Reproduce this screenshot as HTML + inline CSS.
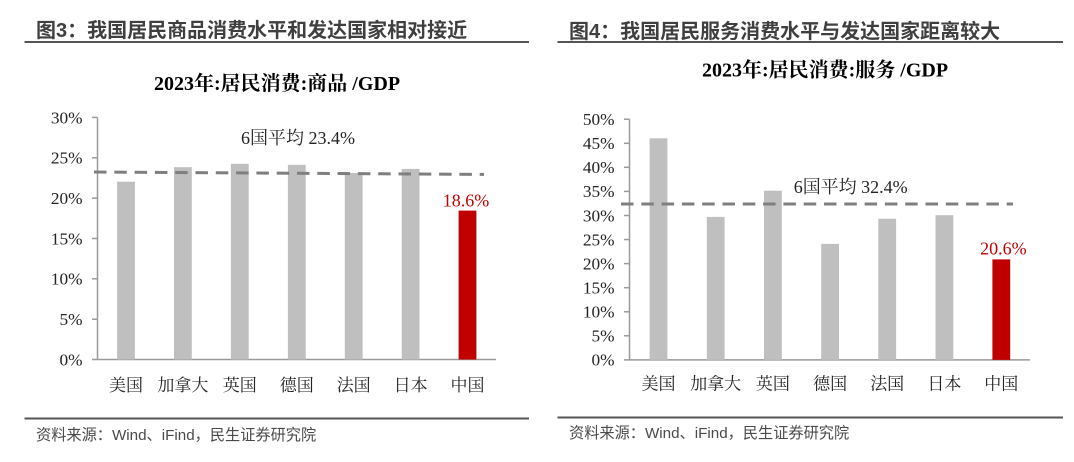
<!DOCTYPE html>
<html><head><meta charset="utf-8"><style>
html,body{margin:0;padding:0;background:#fff;}
svg{display:block;}
.hd{font-family:"Liberation Sans","Noto Sans CJK SC",sans-serif;font-weight:bold;font-size:20px;fill:#3f3f3f;}
.ct{font-family:"Liberation Serif","Noto Serif CJK SC",serif;font-weight:bold;font-size:20px;fill:#000;}
.yl{font-family:"Liberation Serif","Noto Serif CJK SC",serif;font-size:17.3px;fill:#222;}
.xl{font-family:"Liberation Serif","Noto Serif CJK SC",serif;font-size:17px;fill:#222;}
.an{font-family:"Liberation Serif","Noto Serif CJK SC",serif;font-size:18px;fill:#222;}
.rd{font-family:"Liberation Serif","Noto Serif CJK SC",serif;font-size:18px;fill:#c00000;}
.ft{font-family:"Liberation Sans","Noto Sans CJK SC",sans-serif;font-size:15.2px;fill:#4a4a4a;}
</style></head><body>
<svg width="1074" height="462" viewBox="0 0 1074 462" xmlns="http://www.w3.org/2000/svg">
<rect width="1074" height="462" fill="#fff"/>

<!-- ===== LEFT PANEL ===== -->
<text class="hd" x="36" y="37">图3：我国居民商品消费水平和发达国家相对接近</text>
<line x1="24.5" y1="42" x2="529" y2="42" stroke="#555" stroke-width="2"/>
<text class="ct" x="277" y="90" text-anchor="middle">2023年:居民消费:商品 /GDP</text>

<g class="yl" text-anchor="end">
<text x="82.5" y="123.3">30%</text>
<text x="82.5" y="163.6">25%</text>
<text x="82.5" y="203.9">20%</text>
<text x="82.5" y="244.3">15%</text>
<text x="82.5" y="284.6">10%</text>
<text x="82.5" y="325">5%</text>
<text x="82.5" y="365.3">0%</text>
</g>
<g stroke="#9a9a9a" stroke-width="1.5" fill="none">
<line x1="97.5" y1="117.4" x2="97.5" y2="359.5"/>
<line x1="92" y1="359.5" x2="496" y2="359.5"/>
<line x1="92" y1="117.4" x2="97.5" y2="117.4"/>
<line x1="92" y1="157.8" x2="97.5" y2="157.8"/>
<line x1="92" y1="198.1" x2="97.5" y2="198.1"/>
<line x1="92" y1="238.5" x2="97.5" y2="238.5"/>
<line x1="92" y1="278.8" x2="97.5" y2="278.8"/>
<line x1="92" y1="319.2" x2="97.5" y2="319.2"/>
</g>
<g fill="#bfbfbf">
<rect x="117.1" y="181.7" width="17.8" height="177.8"/>
<rect x="174" y="167.2" width="17.8" height="192.3"/>
<rect x="230.9" y="163.8" width="17.8" height="195.7"/>
<rect x="287.9" y="164.8" width="17.8" height="194.7"/>
<rect x="344.8" y="173" width="17.8" height="186.5"/>
<rect x="401.7" y="168.9" width="17.8" height="190.6"/>
</g>
<rect x="458.6" y="210.6" width="17.8" height="148.9" fill="#c00000"/>
<line x1="94" y1="172" x2="484" y2="174.4" stroke="#7f7f7f" stroke-width="3" stroke-dasharray="12.5 7.8"/>
<text class="an" x="241" y="144">6国平均 23.4%</text>
<text class="rd" x="466" y="206.6" text-anchor="middle">18.6%</text>
<g class="xl" text-anchor="middle">
<text x="126" y="390.8">美国</text>
<text x="182.9" y="390.8">加拿大</text>
<text x="239.8" y="390.8">英国</text>
<text x="296.8" y="390.8">德国</text>
<text x="353.7" y="390.8">法国</text>
<text x="410.6" y="390.8">日本</text>
<text x="467.5" y="390.8">中国</text>
</g>
<line x1="24.5" y1="418.5" x2="529" y2="418.5" stroke="#555" stroke-width="2"/>
<text class="ft" x="36" y="440">资料来源：Wind、iFind，民生证券研究院</text>

<!-- ===== RIGHT PANEL ===== -->
<text class="hd" x="569" y="38">图4：我国居民服务消费水平与发达国家距离较大</text>
<line x1="557.5" y1="42" x2="1063" y2="42" stroke="#555" stroke-width="2"/>
<text class="ct" x="825" y="76.5" text-anchor="middle">2023年:居民消费:服务 /GDP</text>

<g class="yl" text-anchor="end">
<text x="614.5" y="125">50%</text>
<text x="614.5" y="149.1">45%</text>
<text x="614.5" y="173.1">40%</text>
<text x="614.5" y="197.2">35%</text>
<text x="614.5" y="221.3">30%</text>
<text x="614.5" y="245.3">25%</text>
<text x="614.5" y="269.4">20%</text>
<text x="614.5" y="293.5">15%</text>
<text x="614.5" y="317.6">10%</text>
<text x="614.5" y="341.6">5%</text>
<text x="614.5" y="365.7">0%</text>
</g>
<g stroke="#9a9a9a" stroke-width="1.5" fill="none">
<line x1="629.5" y1="119.2" x2="629.5" y2="359.9"/>
<line x1="624" y1="359.9" x2="1030" y2="359.9"/>
<line x1="624" y1="119.2" x2="629.5" y2="119.2"/>
<line x1="624" y1="143.3" x2="629.5" y2="143.3"/>
<line x1="624" y1="167.3" x2="629.5" y2="167.3"/>
<line x1="624" y1="191.4" x2="629.5" y2="191.4"/>
<line x1="624" y1="215.5" x2="629.5" y2="215.5"/>
<line x1="624" y1="239.55" x2="629.5" y2="239.55"/>
<line x1="624" y1="263.6" x2="629.5" y2="263.6"/>
<line x1="624" y1="287.7" x2="629.5" y2="287.7"/>
<line x1="624" y1="311.8" x2="629.5" y2="311.8"/>
<line x1="624" y1="335.8" x2="629.5" y2="335.8"/>
</g>
<g fill="#bfbfbf">
<rect x="649.6" y="138.3" width="17.8" height="221.6"/>
<rect x="706.8" y="216.9" width="17.8" height="143"/>
<rect x="764" y="190.7" width="17.8" height="169.2"/>
<rect x="821.2" y="243.9" width="17.8" height="116"/>
<rect x="878.3" y="218.7" width="17.8" height="141.2"/>
<rect x="935.5" y="215.2" width="17.8" height="144.7"/>
</g>
<rect x="992.4" y="259.4" width="17.8" height="100.5" fill="#c00000"/>
<line x1="621" y1="204" x2="1013" y2="204" stroke="#7f7f7f" stroke-width="3" stroke-dasharray="12.5 7.8"/>
<text class="an" x="793.7" y="193">6国平均 32.4%</text>
<text class="rd" x="1003.4" y="254.5" text-anchor="middle">20.6%</text>
<g class="xl" text-anchor="middle">
<text x="658.5" y="389.3">美国</text>
<text x="715.7" y="389.3">加拿大</text>
<text x="772.9" y="389.3">英国</text>
<text x="830.1" y="389.3">德国</text>
<text x="887.2" y="389.3">法国</text>
<text x="944.4" y="389.3">日本</text>
<text x="1001.3" y="389.3">中国</text>
</g>
<line x1="557.5" y1="417.5" x2="1063" y2="417.5" stroke="#555" stroke-width="2"/>
<text class="ft" x="569" y="438">资料来源：Wind、iFind，民生证券研究院</text>
</svg>
</body></html>
